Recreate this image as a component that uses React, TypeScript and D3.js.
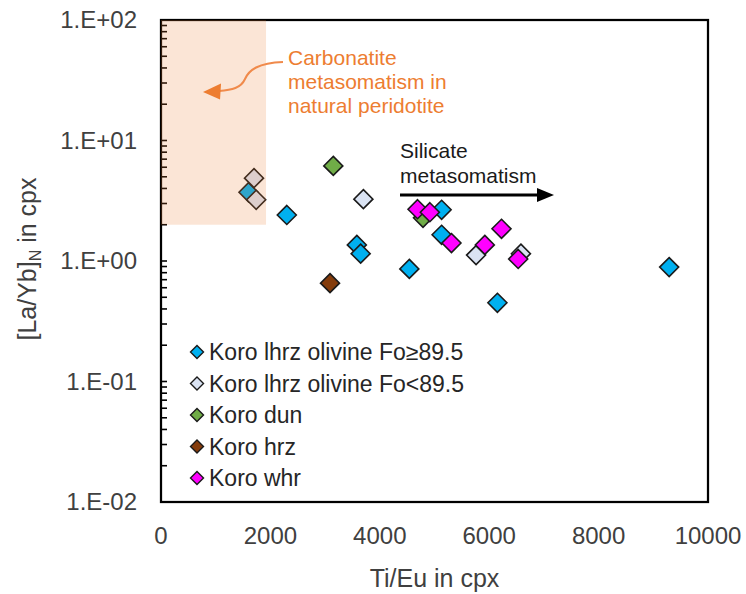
import React from "react";
import * as d3 from "d3";

// Ti/Eu and chondrite-normalised [La/Yb] of clinopyroxene, by lithology
const lhrzHighFoTiEu = [1600, 2300, 3580, 3650, 4540, 5130, 5130, 6150, 9290];
const lhrzHighFoLaYb = [3.72, 2.41, 1.36, 1.15, 0.86, 2.66, 1.65, 0.45, 0.89];

const lhrzLowFoTiEu = [1700, 1740, 3700, 5760, 6580];
const lhrzLowFoLaYb = [4.87, 3.22, 3.26, 1.12, 1.15];

const dunTiEu = [3150, 4790];
const dunLaYb = [6.15, 2.28];

const hrzTiEu = [3090];
const hrzLaYb = [0.655];

const whrTiEu = [4690, 4915, 5310, 6225, 5920, 6530];
const whrLaYb = [2.69, 2.54, 1.41, 1.85, 1.36, 1.04];

const seriesNames = [
  "Koro lhrz olivine Fo≥89.5",
  "Koro lhrz olivine Fo<89.5",
  "Koro dun",
  "Koro hrz",
  "Koro whr",
];
const seriesColors = ["#00B0F0", "#DAE3F3", "#70AD47", "#843C0C", "#FF00FF"];

const xTicks = [0, 2000, 4000, 6000, 8000, 10000];
const yTicks = [0.01, 0.1, 1, 10, 100];

// Field of carbonatite-metasomatised natural peridotite
const carbonatiteTiEuMax = 1920;
const carbonatiteLaYbRange = [2, 100];

const W = 746;
const H = 594;
const plot = { left: 161, right: 708, top: 20, bottom: 502 };
const FONT = "'Liberation Sans', Arial, sans-serif";
const TEXT = "#404040";

const x = d3.scaleLinear().domain([0, 10000]).range([plot.left, plot.right]);
const y = d3.scaleLog().domain([0.01, 100]).range([plot.bottom, plot.top]);

const diamond = (r: number) => `M0,${-r}L${r},0L0,${r}L${-r},0Z`;

const sciLabel = (v: number) => {
  const e = Math.round(Math.log10(v));
  return `1.E${e >= 0 ? "+" : "-"}${String(Math.abs(e)).padStart(2, "0")}`;
};

const series = [
  { xs: lhrzHighFoTiEu, ys: lhrzHighFoLaYb },
  { xs: lhrzLowFoTiEu, ys: lhrzLowFoLaYb },
  { xs: dunTiEu, ys: dunLaYb },
  { xs: hrzTiEu, ys: hrzLaYb },
  { xs: whrTiEu, ys: whrLaYb },
];

// log minor ticks: 2..9 inside every decade, plus the decades themselves
const yMinor: number[] = [];
for (let e = -2; e < 2; e++) {
  for (let k = 1; k <= 9; k++) yMinor.push(k * Math.pow(10, e));
}
yMinor.push(100);

export default function App() {
  const legendRows = [352, 383.5, 415, 446.5, 478];
  return (
    <svg
      width={W}
      height={H}
      style={{ position: "absolute", left: 0, top: 0, background: "#fff" }}
      fontFamily={FONT}
    >
      {/* frame */}
      <rect
        x={plot.left}
        y={plot.top}
        width={plot.right - plot.left}
        height={plot.bottom - plot.top}
        fill="none"
        stroke="#000"
        strokeWidth={2.25}
      />
      {/* y minor ticks, inside */}
      {yMinor.map((v, i) => (
        <line
          key={i}
          x1={plot.left}
          x2={plot.left + 6}
          y1={y(v)}
          y2={y(v)}
          stroke="#000"
          strokeWidth={1.6}
        />
      ))}
      {/* y tick labels */}
      {yTicks.map((v) => (
        <text
          key={v}
          x={137}
          y={y(v)}
          dy="0.35em"
          textAnchor="end"
          fontSize={24}
          fill={TEXT}
        >
          {sciLabel(v)}
        </text>
      ))}
      {/* x tick labels */}
      {xTicks.map((v) => (
        <text
          key={v}
          x={x(v)}
          y={544}
          textAnchor="middle"
          fontSize={24}
          fill={TEXT}
        >
          {v}
        </text>
      ))}
      {/* axis titles */}
      <text x={x(5000)} y={587} textAnchor="middle" fontSize={25} fill={TEXT}>
        Ti/Eu in cpx
      </text>
      <text
        transform={`translate(36,259) rotate(-90)`}
        textAnchor="middle"
        fontSize={25}
        fill={TEXT}
      >
        [La/Yb]
        <tspan fontSize={16} dy={5}>N</tspan>
        <tspan dy={-5}> in cpx</tspan>
      </text>

      {/* data */}
      {series.map((s, si) =>
        s.xs.map((xv, i) => (
          <path
            key={`${si}-${i}`}
            d={diamond(9.5)}
            transform={`translate(${x(xv)},${y(s.ys[i])})`}
            fill={seriesColors[si]}
            stroke="#1a1a1a"
            strokeWidth={1.6}
            strokeLinejoin="miter"
          />
        ))
      )}

      {/* carbonatite field, translucent over the points */}
      <rect
        x={x(0)}
        y={y(carbonatiteLaYbRange[1])}
        width={x(carbonatiteTiEuMax) - x(0)}
        height={y(carbonatiteLaYbRange[0]) - y(carbonatiteLaYbRange[1])}
        fill="#ED7D31"
        fillOpacity={0.2}
      />

      {/* carbonatite annotation */}
      <g fill="#ED7D31" fontSize={21}>
        <text x={288} y={65}>Carbonatite</text>
        <text x={288} y={89}>metasomatism in</text>
        <text x={288} y={113}>natural peridotite</text>
      </g>
      <path
        d="M283,62 C258,63 249,70 245,79 C241,88 232,90 219,91"
        fill="none"
        stroke="#F08A4B"
        strokeWidth={2}
      />
      <path d="M203,92 L221,83.5 L220,99.5 Z" fill="#ED7D31" />

      {/* silicate annotation */}
      <g fill="#1a1a1a" fontSize={21}>
        <text x={400} y={158}>Silicate</text>
        <text x={400} y={183}>metasomatism</text>
      </g>
      <line x1={400} x2={540} y1={195} y2={195} stroke="#000" strokeWidth={3} />
      <path d="M554,195 L537,188 L537,202 Z" fill="#000" />

      {/* legend */}
      {seriesNames.map((name, i) => (
        <g key={name} transform={`translate(197,${legendRows[i]})`}>
          <path
            d={diamond(6.5)}
            fill={seriesColors[i]}
            stroke="#1a1a1a"
            strokeWidth={1.4}
          />
          <text x={12} dy="0.35em" fontSize={23} fill="#262626">
            {name}
          </text>
        </g>
      ))}
    </svg>
  );
}
